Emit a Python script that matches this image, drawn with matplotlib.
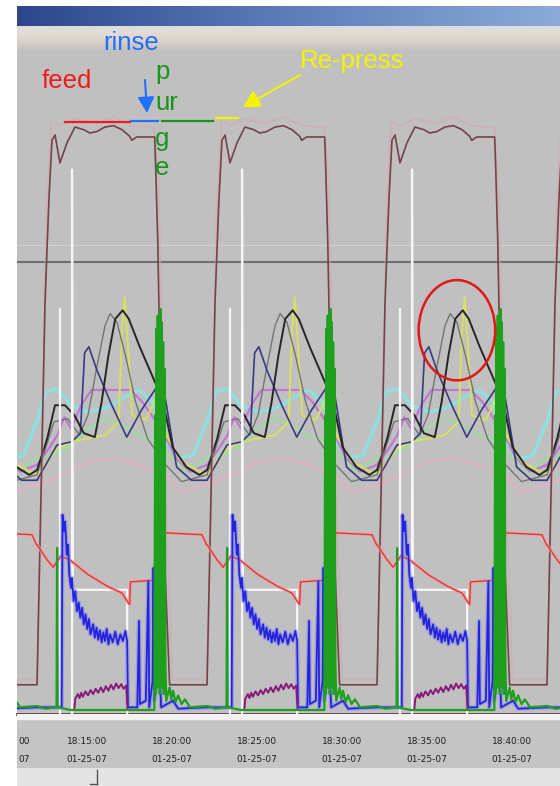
import numpy as np
import matplotlib
matplotlib.use("Agg")
import matplotlib.pyplot as plt
from matplotlib.colors import LinearSegmentedColormap
from matplotlib.patches import Ellipse

W, H = 560, 786
plt.rcParams["font.family"] = ["Liberation Sans", "DejaVu Sans"]

# time axis in minutes after 18:10:00, values in % of trend span
CYCLE_START = [-7.94, 2.06, 12.06, 22.06, 32.06]
TICK_MIN = [5, 10, 15, 20, 25, 30]
TICK_TIME = ["18:15:00", "18:20:00", "18:25:00", "18:30:00", "18:35:00", "18:40:00"]
TICK_DATE = ["01-25-07"] * 6
CUT_TIME, CUT_DATE = "00", "07"   # visible tail of the 18:10:00 label
SETPOINT = 68.1

# one cycle of every trace: offset from cycle start (min) / value
BED_T = [0, 0.47, 0.70, 0.88, 1.06, 1.35, 1.76, 2.23, 2.75, 3.10, 3.50, 4.00, 4.50,
         5.00, 5.45, 5.57, 5.86, 6.92, 6.98, 7.10, 7.40, 7.80, 9.97]
BED_V = [4.4, 62.0, 77.4, 86.4, 87.2, 83.0, 86.0, 88.4, 88.0, 87.5, 87.7, 88.4, 88.6,
         88.0, 87.0, 86.4, 86.9, 86.9, 82.4, 71.4, 30.0, 4.4, 4.4]
GHOST_T = [0, 0.25, 0.55, 0.85, 1.3, 2.2, 3.5, 4.5, 5.6, 6.9, 7.15, 7.45, 7.95, 9.97]
GHOST_V = [5.2, 30.0, 75.0, 89.3, 88.6, 89.6, 89.0, 89.9, 88.6, 88.3, 80.0, 45.0, 5.2, 5.2]

BLACK_T = [0, 0.6, 1.06, 1.64, 2.2, 2.75, 3.4, 3.8, 4.2, 4.6, 5.04, 5.4, 6.04, 6.8,
           7.39, 7.97, 8.79, 9.55, 9.97]
BLACK_V = [36.7, 41.5, 46.5, 46.5, 45.0, 42.3, 41.7, 47.0, 54.0, 59.5, 60.8, 59.5, 55.3,
           50.8, 47.3, 40.2, 37.2, 36.0, 36.7]
GREY_T = [0, 1.0, 1.8, 2.5, 3.0, 3.5, 4.0, 4.3, 4.7, 5.2, 5.8, 6.5, 7.4, 8.5, 9.97]
GREY_V = [36.0, 44.0, 44.5, 42.0, 45.0, 52.0, 58.5, 60.3, 59.0, 54.0, 47.0, 41.5, 38.0, 35.0, 36.0]
NAVY_T = [0, 1.17, 2.05, 2.55, 2.8, 3.05, 3.52, 4.4, 5.28, 6.15, 7.03, 7.5, 8.21, 9.09, 9.97]
NAVY_V = [35.2, 40.5, 41.0, 42.3, 54.4, 55.3, 51.8, 46.5, 41.7, 45.8, 49.2, 48.3, 37.2, 35.2, 35.2]
CYAN_T = [0, 0.5, 1.2, 2.0, 3.0, 4.0, 5.0, 6.0, 6.8, 7.6, 8.4, 9.2, 9.97]
CYAN_V = [44.0, 48.5, 49.0, 46.5, 45.5, 46.0, 47.5, 48.8, 47.0, 41.0, 38.5, 39.0, 44.0]
MAG_T = [0, 0.7, 1.2, 1.6, 2.0, 2.6, 3.2, 4.5, 5.5, 6.2, 7.0, 7.6, 8.2, 9.0, 9.97]
MAG_V = [37.5, 40.0, 42.0, 44.7, 43.0, 46.5, 48.8, 48.8, 48.8, 47.0, 44.0, 41.5, 38.5, 36.5, 37.5]
YEL_T = [0, 1.2, 2.0, 3.0, 4.0, 4.8, 5.0, 5.16, 5.33, 5.6, 6.4, 7.0, 7.6, 8.5, 9.97]
YEL_V = [36.0, 40.0, 41.0, 41.5, 42.0, 44.0, 57.8, 62.8, 56.0, 45.0, 44.3, 47.5, 42.0, 38.0, 36.0]
LGRN_T = [0, 1.0, 2.0, 3.0, 4.0, 5.0, 6.0, 7.0, 7.8, 8.8, 9.97]
LGRN_V = [38.5, 39.0, 40.5, 43.0, 44.5, 43.5, 42.0, 41.0, 39.0, 36.5, 38.5]
ROSE_T = [0, 1.5, 3.0, 4.5, 6.0, 7.5, 8.5, 9.97]
ROSE_V = [34.5, 36.0, 38.0, 38.5, 37.5, 36.0, 33.5, 34.5]

RED_T = [0, 0.6, 0.95, 1.4, 1.93, 3.0, 4.1, 5.0, 5.3, 5.45, 5.5, 7.25, 7.4, 9.7, 9.97]
RED_V = [25.5, 23.2, 22.1, 23.8, 23.2, 21.0, 19.3, 18.2, 17.0, 16.5, 19.9, 20.2, 27.3, 27.0, 25.5]
BLUE_T = [0, 1.45, 1.5, 1.6, 1.65, 1.75, 1.82, 1.9, 2.0, 2.05, 2.15, 2.25, 2.35, 2.45,
          2.55, 2.65, 2.75, 2.85, 2.95, 3.05, 3.15, 3.3, 3.4, 3.5, 3.6, 3.7, 3.8, 3.9,
          4.0, 4.1, 4.2, 4.3, 4.45, 4.6, 4.75, 4.9, 5.05, 5.2, 5.3, 5.35, 5.9, 6.0,
          6.05, 6.4, 6.55, 6.6, 6.8, 6.85, 6.9, 7.2, 7.3, 8.0, 8.3, 9.97]
BLUE_V = [1.0, 1.0, 30.0, 27.5, 29.0, 24.0, 25.5, 21.0, 19.0, 20.5, 17.0, 18.5, 15.5, 16.8,
          14.5, 16.0, 13.5, 15.0, 12.8, 14.3, 12.0, 13.5, 11.5, 13.0, 11.2, 12.6, 10.8, 12.3,
          11.0, 12.8, 10.5, 12.0, 10.8, 12.4, 10.5, 12.0, 11.0, 12.5, 11.0, 1.0, 1.0, 14.0,
          1.5, 2.0, 20.0, 1.0, 5.0, 22.0, 2.0, 8.0, 1.0, 2.0, 0.8, 1.0]
PURP_T = [2.2, 2.25, 2.4, 2.5, 2.6, 2.7, 2.85, 3.0, 3.15, 3.3, 3.45, 3.6, 3.75, 3.9,
          4.05, 4.2, 4.35, 4.5, 4.65, 4.8, 4.95, 5.1, 5.25, 5.32]
PURP_V = [0.8, 2.3, 3.0, 2.4, 3.2, 2.6, 3.4, 2.8, 3.6, 3.0, 3.8, 3.2, 4.0, 3.3,
          4.2, 3.5, 4.4, 3.7, 4.6, 3.9, 4.5, 3.8, 4.3, 0.8]
GRN_T = [0, 0.5, 1.15, 1.18, 1.21, 2.0, 6.9, 6.95, 6.98, 7.02, 7.06, 7.1, 7.14, 7.18, 7.22,
         7.26, 7.3, 7.34, 7.38, 7.42, 7.46, 7.5, 7.55, 7.6, 7.8, 7.9, 8.0, 8.15, 8.3,
         8.5, 8.7, 9.0, 9.97]
GRN_V = [1.2, 0.8, 1.0, 25.0, 1.0, 0.6, 0.6, 45.0, 3.0, 58.0, 4.0, 60.0, 5.0, 57.0, 3.0,
         61.0, 6.0, 59.0, 4.0, 56.0, 3.0, 52.0, 8.0, 2.0, 4.0, 2.2, 3.5, 1.8, 2.8,
         1.5, 2.2, 1.0, 1.2]
WHITE_A_T = [1.35, 1.35]
WHITE_A_V = [0, 61.0]
WHITE_B_T = [2.06, 2.06, 2.1, 5.3, 5.3]
WHITE_B_V = [0, 82.0, 18.7, 18.7, 0]

# hand-drawn phase notes (minutes after 18:10, level in %)
PHASE_NAMES = ["feed", "rinse", "purge", "Re-press"]
PHASE_T0 = [3.71, 7.59, 9.41, 12.59]
PHASE_T1 = [7.53, 9.18, 12.41, 13.88]
PHASE_LEVEL = [89.2, 89.3, 89.3, 89.8]

RED = "#F01A1A"; BLUE = "#2070FF"; GREEN = "#14961A"; YELLOW = "#F4F400"


def fbox(x0, y0, x1, y1):
    return [x0 / W, 1 - y1 / H, (x1 - x0) / W, (y1 - y0) / H]


def cycles(off, val, gap=False):
    ts, vs = [], []
    for cs in CYCLE_START:
        ts += [cs + o for o in off]
        vs += list(val)
        if gap:
            ts.append(np.nan); vs.append(np.nan)
    return ts, vs


fig = plt.figure(figsize=(W / 100, H / 100), dpi=100, facecolor="white")

# window title bar + toolbar band
bar = fig.add_axes(fbox(17, 6, 560, 26))
bar.imshow(np.linspace(0, 1, 256)[None, :], aspect="auto", extent=[0, 1, 0, 1],
           cmap=LinearSegmentedColormap.from_list("bar", ["#2D468C", "#5D7DB8", "#8CAAD7"]))
bar.axis("off")
band = fig.add_axes(fbox(17, 26, 560, 50))
band.imshow(np.linspace(0, 1, 64)[:, None], aspect="auto", extent=[0, 1, 0, 1],
            cmap=LinearSegmentedColormap.from_list(
                "band", ["#DCDCE2", "#E4DCD4", "#D8CFC6", "#C6C2BE"]))
band.axis("off")

# trend area
T0, T1 = (17 - 2) / 17, (560 - 2) / 17
ax = fig.add_axes(fbox(17, 50, 560, 714))
ax.set_facecolor("#C0C0C0")
ax.set_xlim(T0, T1); ax.set_ylim(0, 100)
ax.set_xticks([]); ax.set_yticks([])
for s in ["top", "left", "right"]:
    ax.spines[s].set_visible(False)
ax.spines["bottom"].set_color("#6A3A3A"); ax.spines["bottom"].set_linewidth(2)

ax.axhline(70.6, color="#D2D2D2", lw=0.8, zorder=1)
ax.axhline(SETPOINT, color="#6E6E6E", lw=1.5, zorder=1)

ax.plot(*cycles(CYAN_T, CYAN_V), color="#86E6E6", lw=2.6, alpha=0.8, zorder=2)
ax.plot(*cycles(LGRN_T, LGRN_V), color="#9AE09A", lw=1.6, alpha=0.9, zorder=2)
ax.plot(*cycles(ROSE_T, ROSE_V), color="#E6B0C4", lw=1.6, alpha=0.9, zorder=2)
ax.plot(*cycles(MAG_T, MAG_V), color="#C070D8", lw=1.6, alpha=0.9, zorder=3)
ax.plot(*cycles(YEL_T, YEL_V), color="#D8E060", lw=1.4, zorder=3)
ax.plot(*cycles(GREY_T, GREY_V), color="#747474", lw=1.0, zorder=4)
ax.plot(*cycles(NAVY_T, NAVY_V), color="#3A3A80", lw=1.2, zorder=4)
ax.plot(*cycles(BLACK_T, BLACK_V), color="#262626", lw=1.4, zorder=5)

ax.plot(*cycles(GHOST_T, GHOST_V), color="#D4A6AC", lw=1.6, alpha=0.5, zorder=5)
ax.plot(*cycles(BED_T, BED_V), color="#74424A", lw=1.2, zorder=6)

ax.plot(*cycles(WHITE_A_T, WHITE_A_V, gap=True), color="#F6F6F6", lw=1.6, zorder=6)
ax.plot(*cycles(WHITE_B_T, WHITE_B_V, gap=True), color="#F6F6F6", lw=1.6, zorder=6)

ax.plot(*cycles(RED_T, RED_V), color="#F2A0A0", lw=2.6, alpha=0.7, zorder=6)
ax.plot(*cycles(RED_T, RED_V), color="#E03838", lw=1.0, zorder=7)
ax.plot(*cycles(BLUE_T, BLUE_V), color="#8080F0", lw=3.2, alpha=0.5, zorder=7)
ax.plot(*cycles(BLUE_T, BLUE_V), color="#2424E0", lw=1.3, zorder=8)
ax.plot(*cycles(PURP_T, PURP_V, gap=True), color="#8A1A7A", lw=1.4, zorder=8)
ax.plot(*cycles(GRN_T, GRN_V), color="#1EA01E", lw=1.6, zorder=9)

# phase annotations
for name, t0, t1, lv, c in zip(PHASE_NAMES, PHASE_T0, PHASE_T1, PHASE_LEVEL,
                               [RED, BLUE, GREEN, YELLOW]):
    ax.plot([t0, t1], [lv, lv], color=c, lw=1.6, zorder=10)

ax.add_patch(Ellipse((26.76, 57.8), 4.5, 15.1, fill=False, ec="#E01818", lw=1.8, zorder=11))


def ftext(x, y, s, c):
    fig.text(x / W, 1 - y / H, s, ha="left", va="baseline", fontsize=18.5, color=c)


ftext(42, 88, "feed", RED)
ftext(103, 50, "rinse", BLUE)
ftext(300, 68, "Re-press", YELLOW)
for s, y in zip(["p", "ur", "g", "e"], [79, 110, 146, 175]):
    ftext(155, y, s, GREEN)

ax.annotate("", xy=(147, H - 113), xytext=(145, H - 80), xycoords="figure pixels",
            textcoords="figure pixels",
            arrowprops=dict(arrowstyle="-|>,head_length=0.95,head_width=0.5", color=BLUE,
                            lw=1.5, mutation_scale=10, shrinkA=0, shrinkB=0))
ax.annotate("", xy=(243, H - 107), xytext=(300, H - 75), xycoords="figure pixels",
            textcoords="figure pixels",
            arrowprops=dict(arrowstyle="-|>,head_length=1.0,head_width=0.55", color=YELLOW,
                            lw=1.5, mutation_scale=10, shrinkA=0, shrinkB=0))

# time axis strip
tax = fig.add_axes(fbox(17, 714, 560, 768))
tax.set_facecolor("#C4C4C4")
tax.set_xlim(T0, T1); tax.set_ylim(768, 714)
tax.axis("off")
tax.axhspan(714, 718.5, color="#F2F2F2")
tax.add_patch(plt.Rectangle((T0, 718.5), T1 - T0, 50, color="#C4C4C4", zorder=0))
lab = dict(va="center", fontsize=6.5, color="#1E1E1E", family="DejaVu Sans")
for t, a, b in zip(TICK_MIN, TICK_TIME, TICK_DATE):
    tax.text(t, 742, a, ha="center", **lab)
    tax.text(t, 759, b, ha="center", **lab)
tax.text(T0 + 0.1, 742, CUT_TIME, ha="left", **lab)
tax.text(T0 + 0.1, 759, CUT_DATE, ha="left", **lab)

# scroll bar
sax = fig.add_axes(fbox(17, 768, 560, 786))
sax.set_xlim(17, 560); sax.set_ylim(786, 768)
sax.axis("off")
sax.add_patch(plt.Rectangle((17, 768), 543, 18, color="#E4E4E4", zorder=0))
sax.plot([97, 97], [770, 784], color="#505050", lw=1)
sax.plot([90, 97], [784, 784], color="#505050", lw=1)

fig.savefig("out.png", dpi=100, facecolor="white")
